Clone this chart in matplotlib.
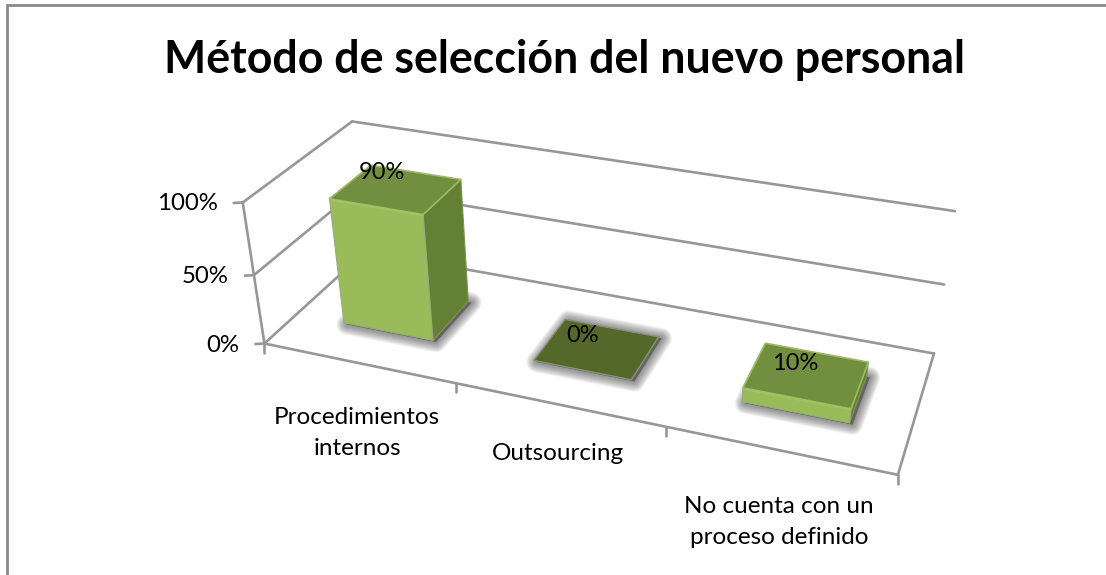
import numpy as np
import matplotlib
matplotlib.use("Agg")
import matplotlib.pyplot as plt
from matplotlib.patches import Polygon

title = "Método de selección del nuevo personal"
categories = ["Procedimientos\ninternos", "Outsourcing", "No cuenta con un\nproceso definido"]
values = [0.90, 0.0, 0.10]
value_labels = ["90%", "0%", "10%"]
z_ticks = [0.0, 0.5, 1.0]
z_tick_labels = ["0%", "50%", "100%"]

W, H = 1106, 575
GREY = "#979797"
FONT = "Lato"

# perspective camera: anchors of the chart box (unit cube -> pixels)
obj = [(0,0,0),(0,0,.5),(0,0,1),(0,1,0),(0,1,.5),(0,1,1),(1,1,0),(1,1,.5),(1,1,1),(1,0,0)]
img = [(264,343),(254,275),(243,203),(366,252),(359,188),(352,121),(934,353),(944,285),(955,211),(898,475)]
A = []
for (X,Y,Z),(u,v) in zip(obj,img):
    A.append([X,Y,Z,1,0,0,0,0,-u*X,-u*Y,-u*Z,-u])
    A.append([0,0,0,0,X,Y,Z,1,-v*X,-v*Y,-v*Z,-v])
P = np.linalg.svd(np.array(A,float))[2][-1].reshape(3,4)

def proj(x, y, z):
    p = P @ np.array([x, y, z, 1.0])
    return p[0]/p[2], p[1]/p[2]

fig = plt.figure(figsize=(W/100, H/100), dpi=100)
ax = fig.add_axes([0,0,1,1])
ax.set_xlim(0, W); ax.set_ylim(H, 0); ax.axis("off")

def line(a, b, lw=1.9, c=GREY, zo=1):
    ax.plot([a[0],b[0]],[a[1],b[1]],color=c,lw=lw,zorder=zo,solid_capstyle="round")

# frame: left and top edges only reach the picture
ax.plot([7,7,W+5],[H+5,5,5],color="#8a8a8a",lw=2.0,zorder=1,solid_joinstyle="miter")

# walls, floor
for z in z_ticks:
    line(proj(0,0,z),proj(0,1,z))
    line(proj(0,1,z),proj(1,1,z))
    a = proj(0,0,z)
    line(a,(a[0]-9,a[1]+0.5))
line(proj(0,0,0),proj(0,0,1))
line(proj(0,0,0),proj(1,0,0))
line(proj(1,0,0),proj(1,1,0))
n = len(categories)
for i in range(n+1):
    a = proj(i/n,0,0)
    line(a,(a[0],a[1]+9))

# bars
bw, d0, d1 = 0.08, 0.30, 0.70
label_off = [(-33,0),(-29,7),(-21,11)]

def face(pts, col, ec=None, zo=3, lw=0.8):
    ax.add_patch(Polygon(pts, closed=True, facecolor=col, edgecolor=ec or col, lw=lw, joinstyle="round", zorder=zo))

for i,(v,lab) in enumerate(zip(values,value_labels)):
    xc = (i+.5)/n
    x0, x1 = xc-bw, xc+bw
    foot = [proj(x0,d0,0),proj(x1,d0,0),proj(x1,d1,0),proj(x0,d1,0)]
    # soft shadow on the floor
    sh = np.array(foot) + np.array([3,1.5])
    for lw in np.linspace(15,1,11):
        ax.add_patch(Polygon(sh,closed=True,facecolor="#3a3a3a",edgecolor="#3a3a3a",lw=lw,alpha=0.065,joinstyle="round",zorder=2))
    top = [proj(x0,d0,v),proj(x1,d0,v),proj(x1,d1,v),proj(x0,d1,v)]
    if v == 0:
        face(top,"#546829",ec="#8a8f78",zo=3,lw=1.0)
    else:
        face([foot[1],foot[2],top[2],top[1]],"#648133",ec="#7d9455")
        face([foot[0],foot[1],top[1],top[0]],"#9abb59",ec="#9aa884")
        face(top,"#728f3f",ec="#9dbc60",lw=1.2)
        # lighter bevel along the top of the front face
        h = min(0.012, v*0.2)
        face([proj(x0,d0,v),proj(x1,d0,v),proj(x1,d0,v-h),proj(x0,d0,v-h)],"#a3c263",zo=4,lw=0.3)
    t = proj(xc,d1,v)
    ox,oy = label_off[i]
    ax.text(t[0]+ox,t[1]+oy,lab,ha="center",va="center",fontsize=17,family=FONT,color="black",zorder=6)

# z labels
for z,l in zip(z_ticks,z_tick_labels):
    a = proj(0,0,z)
    ax.text(a[0]-25,a[1]+1.5,l,ha="right",va="center",fontsize=17.3,family=FONT,color="black")

# category labels
lab_pos = [(357,433),(558,454),(779,522)]
for (x,y),c in zip(lab_pos,categories):
    ax.text(x,y,c,ha="center",va="center",fontsize=17.5,family=FONT,color="black",linespacing=1.55)

ax.text(564,60,title,ha="center",va="center",fontsize=32.2,fontweight="bold",family=FONT,color="black")
fig.savefig("out.png",dpi=100,facecolor="white")
